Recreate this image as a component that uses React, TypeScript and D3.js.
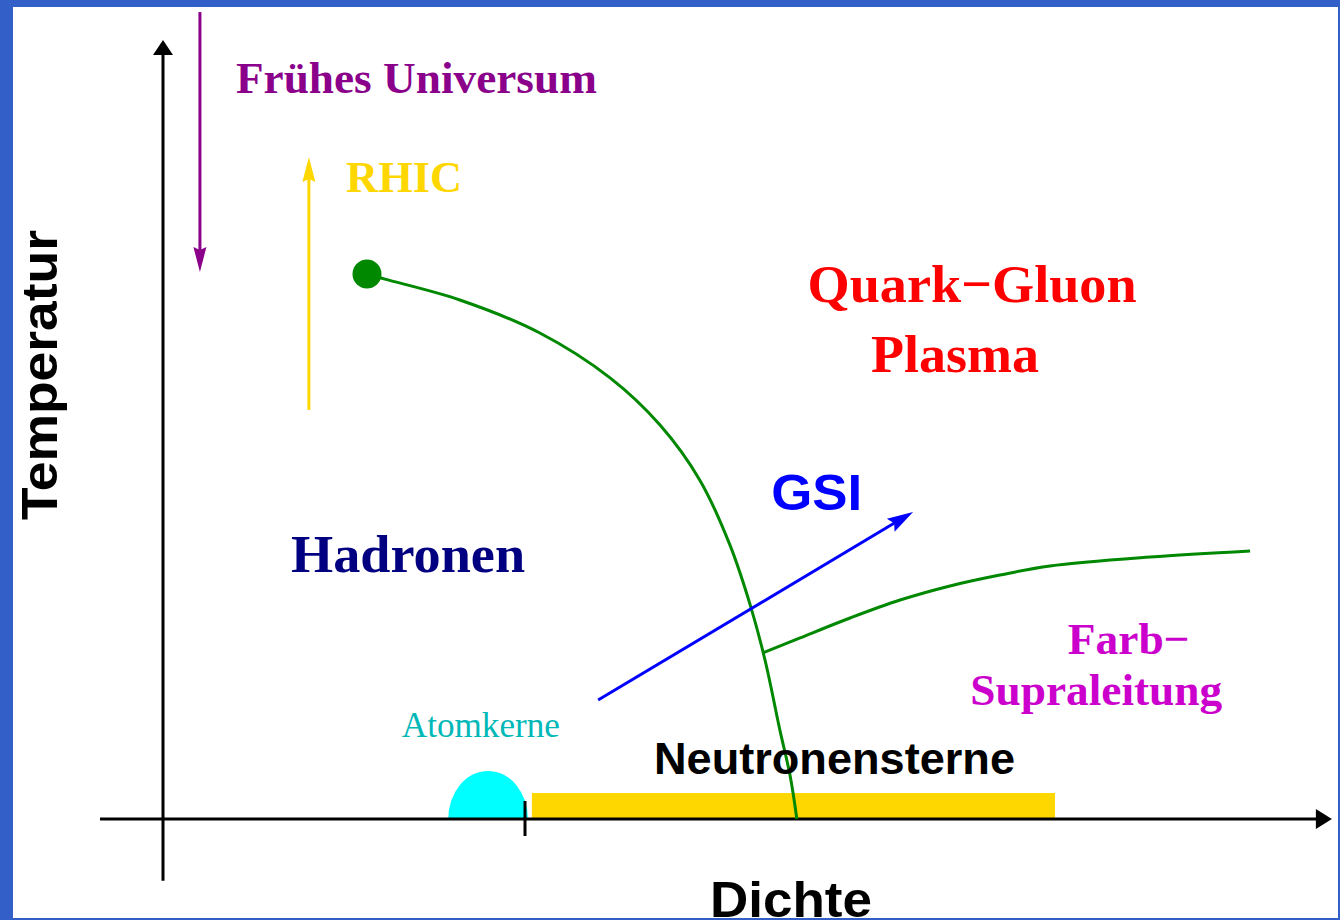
import React, { useEffect } from "react";
import * as d3 from "d3";

// Data units: density in units of nuclear density (rho0 = 1), temperature in MeV
const phaseBoundaryX = [0.5635, 0.613, 0.82, 1.041, 1.235, 1.373, 1.483, 1.566, 1.622, 1.663, 1.704, 1.732, 1.751];
const phaseBoundaryT = [170, 168.4, 161.9, 151.6, 137.6, 122.9, 105.7, 85.5, 66.8, 49.6, 27.8, 13.7, 0];

const colorSCX = [1.657, 1.76, 1.898, 2.036, 2.174, 2.312, 2.45, 2.727, 3.003];
const colorSCT = [51.8, 56.5, 62.7, 68.3, 72.7, 76.1, 78.9, 81.7, 83.6];

const criticalPoint = { x: 0.5635, t: 170 };

const gsiArrow = { x0: 1.202, t0: 37.1, x1: 2.072, t1: 95.8 };
const earlyUniverseArrow = { x: 0.102, t0: 251.7, t1: 170.6 };
const rhicArrow = { x: 0.403, t0: 127.6, t1: 206.5 };

const neutronStarRange = { x0: 1.019, x1: 2.464, t: 8.1 };
const nucleus = { x: 0.898, rx: 0.11, rt: 15.0 };
const nuclearDensityTick = 1;

const xAxisExtent = [-0.174, 3.229];
const yAxisExtent = [-19.3, 243];

const labels = [
  { text: "Frühes Universum", x: 0.7, t: 226.5 },
  { text: "RHIC", x: 0.666, t: 195.5 },
  { text: "Quark\u2212Gluon", x: 2.235, t: 161.3 },
  { text: "Plasma", x: 2.188, t: 139.5 },
  { text: "GSI", x: 1.806, t: 96.4 },
  { text: "Hadronen", x: 0.677, t: 77.0 },
  { text: "Farb\u2212", x: 2.668, t: 51.5 },
  { text: "Supraleitung", x: 2.578, t: 35.6 },
  { text: "Atomkerne", x: 0.878, t: 25.6 },
  { text: "Neutronensterne", x: 1.855, t: 14.0 },
];

const axisTitles = { x: "Dichte", y: "Temperatur" };

const W = 1340;
const H = 920;

const x = d3.scaleLinear().domain([0, 1]).range([163, 525]);
const y = d3.scaleLinear().domain([0, 170]).range([819, 274]);

const serif = "'Liberation Serif', 'Times New Roman', serif";
const sans = "'Liberation Sans', Arial, sans-serif";

const labelStyles: Record<string, any> = {
  "Frühes Universum": { fill: "#8b008b", size: 45, family: serif, len: 361 },
  RHIC: { fill: "#ffd700", size: 44, family: serif, len: 116 },
  "Quark\u2212Gluon": { fill: "#ff0000", size: 53, family: serif, len: 329 },
  Plasma: { fill: "#ff0000", size: 53, family: serif, len: 168 },
  GSI: { fill: "#0000ff", size: 50, family: sans, len: 91 },
  Hadronen: { fill: "#000080", size: 52, family: serif, len: 234 },
  "Farb\u2212": { fill: "#cc00cc", size: 45, family: serif, len: 122 },
  Supraleitung: { fill: "#cc00cc", size: 45, family: serif, len: 252 },
  Atomkerne: { fill: "#00b8b8", size: 35, family: serif, len: 158, weight: "normal" },
  Neutronensterne: { fill: "#000000", size: 44, family: sans, len: 361 },
};

function arrowHead(x1: number, y1: number, x2: number, y2: number, len: number, half: number, notch = 0) {
  const dx = x2 - x1;
  const dy = y2 - y1;
  const d = Math.hypot(dx, dy);
  const ux = dx / d;
  const uy = dy / d;
  const px = -uy;
  const py = ux;
  const bx = x2 - ux * len;
  const by = y2 - uy * len;
  const nx = x2 - ux * (len - notch);
  const ny = y2 - uy * (len - notch);
  return `M${x2},${y2}L${bx + px * half},${by + py * half}L${nx},${ny}L${bx - px * half},${by - py * half}Z`;
}

export default function App() {
  useEffect(() => {
    document.body.style.margin = "0";
  }, []);

  const line = d3
    .line<[number, number]>()
    .x((d) => x(d[0]))
    .y((d) => y(d[1]))
    .curve(d3.curveCatmullRom.alpha(0.5));

  const boundary = line(phaseBoundaryX.map((v, i) => [v, phaseBoundaryT[i]]))!;
  const csc = line(colorSCX.map((v, i) => [v, colorSCT[i]]))!;

  const gx0 = x(gsiArrow.x0), gy0 = y(gsiArrow.t0), gx1 = x(gsiArrow.x1), gy1 = y(gsiArrow.t1);
  const ex = x(earlyUniverseArrow.x), ey0 = y(earlyUniverseArrow.t0), ey1 = y(earlyUniverseArrow.t1);
  const rx = x(rhicArrow.x), ry0 = y(rhicArrow.t0), ry1 = y(rhicArrow.t1);

  const xa0 = x(xAxisExtent[0]), xa1 = x(xAxisExtent[1]);
  const ya0 = y(yAxisExtent[0]), ya1 = y(yAxisExtent[1]);
  const y0 = y(0);
  const x0 = x(0);

  const ncx = x(nucleus.x);
  const nrx = x(nucleus.x + nucleus.rx) - ncx;
  const nry = y0 - y(nucleus.rt);
  const nucleusPath = `M${ncx - nrx},${y0} A${nrx},${nry} 0 0 1 ${ncx + nrx},${y0} Z`;

  return (
    <svg width={W} height={H} style={{ position: "absolute", left: 0, top: 0, display: "block" }}>
      <rect x={0} y={0} width={W} height={H} fill="#3360c8" />
      <rect x={13} y={7} width={W - 15} height={H - 9} fill="#ffffff" />

      {/* nucleus */}
      <path d={nucleusPath} fill="#00ffff" />
      {/* neutron stars bar */}
      <rect
        x={x(neutronStarRange.x0)}
        y={y(neutronStarRange.t)}
        width={x(neutronStarRange.x1) - x(neutronStarRange.x0)}
        height={y0 - y(neutronStarRange.t)}
        fill="#ffd700"
      />

      {/* axes */}
      <line x1={x0} y1={ya0} x2={x0} y2={ya1 + 12} stroke="#000" strokeWidth={3} />
      <path d={arrowHead(x0, ya0, x0, ya1, 15, 10)} fill="#000" />
      <line x1={xa0} y1={y0} x2={xa1 - 12} y2={y0} stroke="#000" strokeWidth={3} />
      <path d={arrowHead(xa0, y0, xa1, y0, 16, 10)} fill="#000" />
      <line x1={x(nuclearDensityTick)} y1={y0 - 18} x2={x(nuclearDensityTick)} y2={y0 + 17} stroke="#000" strokeWidth={3} />

      {/* early universe arrow */}
      <line x1={ex} y1={ey0} x2={ex} y2={ey1 - 10} stroke="#8b008b" strokeWidth={3} />
      <path d={arrowHead(ex, ey0, ex, ey1, 25, 6.5, 3)} fill="#8b008b" />
      {/* RHIC arrow */}
      <line x1={rx} y1={ry0} x2={rx} y2={ry1 + 10} stroke="#ffd700" strokeWidth={3} />
      <path d={arrowHead(rx, ry0, rx, ry1, 25, 6.5, 3)} fill="#ffd700" />

      {/* phase boundaries */}
      <path d={boundary} fill="none" stroke="#008800" strokeWidth={3} />
      <path d={csc} fill="none" stroke="#008800" strokeWidth={3} />
      <circle cx={x(criticalPoint.x)} cy={y(criticalPoint.t)} r={14.5} fill="#008800" />

      {/* GSI arrow */}
      <line x1={gx0} y1={gy0} x2={gx1 - (gx1 - gx0) * 0.05} y2={gy1 - (gy1 - gy0) * 0.05} stroke="#0000ff" strokeWidth={3} />
      <path d={arrowHead(gx0, gy0, gx1, gy1, 26, 7.5, 4)} fill="#0000ff" />

      {/* labels */}
      {labels.map((l) => {
        const s = labelStyles[l.text];
        return (
          <text
            key={l.text}
            x={x(l.x)}
            y={y(l.t)}
            textAnchor="middle"
            fill={s.fill}
            fontFamily={s.family}
            fontSize={s.size}
            fontWeight={s.weight ?? "bold"}
            textLength={s.len}
            lengthAdjust="spacingAndGlyphs"
          >
            {l.text}
          </text>
        );
      })}

      {/* axis titles */}
      <text
        x={791}
        y={917}
        textAnchor="middle"
        fontFamily={sans}
        fontWeight="bold"
        fontSize={50}
        fill="#000"
        textLength={162}
        lengthAdjust="spacingAndGlyphs"
      >
        {axisTitles.x}
      </text>
      <text
        transform="translate(57,375) rotate(-90)"
        textAnchor="middle"
        fontFamily={sans}
        fontWeight="bold"
        fontSize={50}
        fill="#000"
        textLength={290}
        lengthAdjust="spacingAndGlyphs"
      >
        {axisTitles.y}
      </text>
    </svg>
  );
}
